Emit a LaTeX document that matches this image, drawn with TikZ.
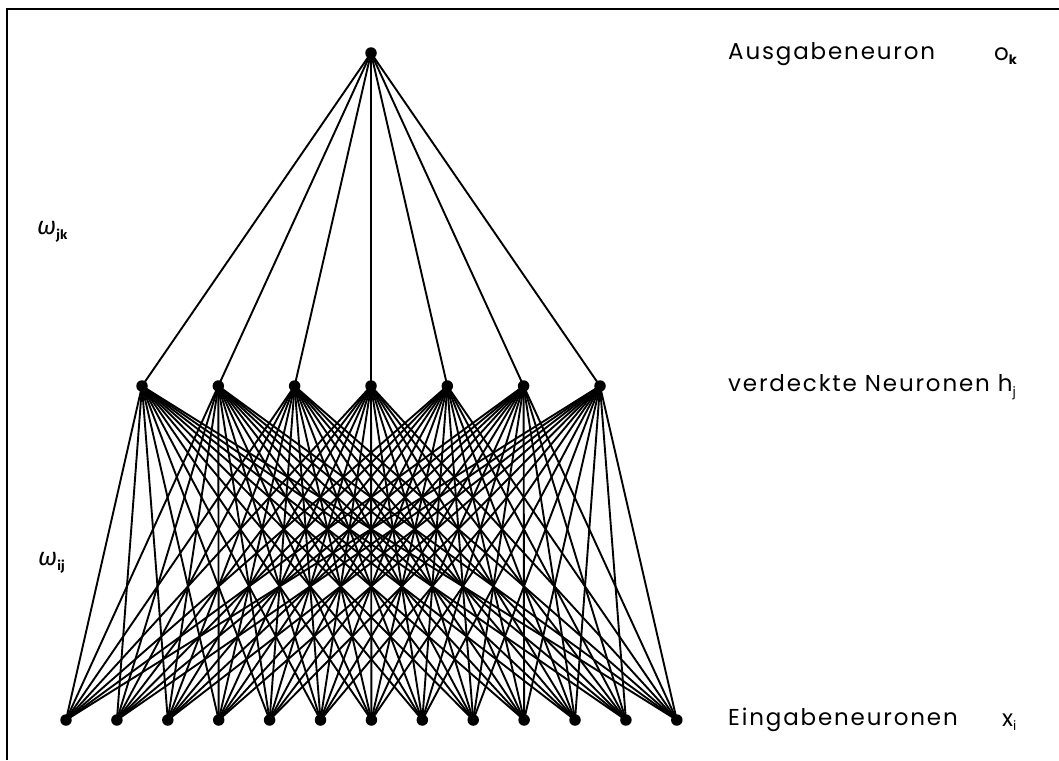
\documentclass[tikz,border=0pt]{standalone}
\usepackage{fontspec}
\setmainfont{Poppins}[LetterSpace=8]
\newfontfamily\greekfont{Fira Sans}
\begin{document}
\begin{tikzpicture}[x=1pt,y=-1pt,
  neuron/.style={circle,fill=black,inner sep=0pt,minimum size=11.5pt},
  conn/.style={line width=1.9pt},
  lbl/.style={anchor=west,inner sep=0pt,font=\fontsize{23}{23}\selectfont},
  sub/.style={anchor=west,inner sep=0pt,font=\fontsize{23}{23}\selectfont}]
\useasboundingbox (0,0) rectangle (1059,760);
\draw[line width=1.2pt] (7,760) -- (7,9) -- (1059,9);
\newcommand{\mysub}[1]{\raisebox{-0.35ex}{\fontsize{13}{13}\selectfont\upshape #1}}
\newcommand{\mybsub}[1]{\raisebox{-0.35ex}{\fontsize{13}{13}\selectfont\upshape\bfseries #1}}
% output
\node[neuron] (o) at (371,53) {};
% hidden
\foreach \i/\x in {1/142,2/218.3,3/294.6,4/371,5/447.3,6/523.6,7/600}
  \node[neuron] (h\i) at (\x,386) {};
% input
\foreach \i in {1,...,13}
  \node[neuron] (x\i) at ({66+(\i-1)*50.9},720) {};
\foreach \i in {1,...,7}
  \draw[conn] (o.center) -- (h\i.center);
\foreach \i in {1,...,7}
  \foreach \j in {1,...,13}
    \draw[conn] (h\i.center) -- (x\j.center);
% labels
\node[lbl] (lo) at (728,54) {Ausgabeneuron};
\node[sub] (so) at (994,56) {o\mybsub{k}};
\node[lbl] (lh) at (728,387) {verdeckte Neuronen h\mysub{j}};
\node[lbl] (lx) at (728,720) {Eingabeneuronen};
\node[sub] (sx) at (1002,722) {x\mysub{i}};
\node[anchor=west,inner sep=0pt] (wjk) at (37,232) {\greekfont\fontsize{25}{25}\selectfont{\itshape ω}\mybsub{jk}};
\node[anchor=west,inner sep=0pt] (wij) at (38,563) {\greekfont\fontsize{25}{25}\selectfont{\itshape ω}\mybsub{ij}};
\end{tikzpicture}
\end{document}
